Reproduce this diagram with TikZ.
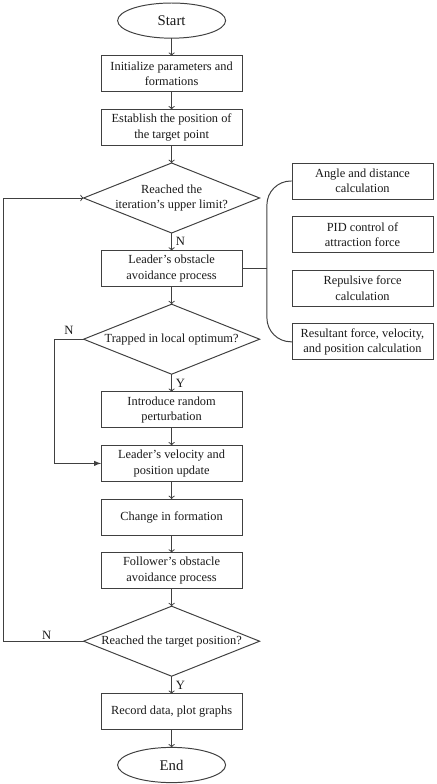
\documentclass[tikz,border=0pt]{standalone}
\usepackage{fontspec}
\setmainfont{Liberation Serif}
\usetikzlibrary{shapes.geometric, arrows}
\usetikzlibrary{positioning}
\usetikzlibrary{calc}

\begin{document}
\begin{tikzpicture}[
                    node distance=0.44cm,
                    every node/.style={align=center, outer sep=0pt, text=black!90, font=\fontsize{8.8}{11}\selectfont},
                    process/.style={draw=black!75, line width=0.7pt, minimum width=3.525cm, minimum height=0.9cm, inner sep=1pt},
                    decision/.style={diamond, draw=black!75, line width=0.7pt, aspect=2.5, minimum width=4.4cm, minimum height=1.75cm, inner sep=-1.5pt},
                    terminal/.style={ellipse, draw=black!75, line width=0.7pt, minimum width=2.7cm, minimum height=0.88cm, font=\fontsize{10.5}{12}\selectfont},
                    flow/.style={->, draw=black!75, line width=0.7pt},
                    plain/.style={draw=black!75, line width=0.7pt},
                    yn/.style={font=\fontsize{9}{10}\selectfont, inner sep=3pt}
                ]
                \useasboundingbox (0,0) rectangle (10.9,-19.6);
                % main column
                \node[terminal] (start) at (4.29,-0.515) {Start};
                \node[process, below=of start] (init) {Initialize parameters and\\formations};
                \node[process, below=of init] (target) {Establish the position of\\the target point};
                \node[decision, below=of target] (iterchk) {Reached the\\iteration's upper limit?};
                \node[process, below=of iterchk] (lobst) {Leader's obstacle\\avoidance process};
                \node[decision, below=of lobst] (trapchk) {Trapped in local optimum?};
                \node[process, below=of trapchk] (perturb) {Introduce random\\perturbation};
                \node[process, below=of perturb] (lupdate) {Leader's velocity and\\position update};
                \node[process, below=of lupdate] (formation) {Change in formation};
                \node[process, below=of formation] (fobst) {Follower's obstacle\\avoidance process};
                \node[decision, below=of fobst] (goalchk) {Reached the target position?};
                \node[process, below=of goalchk] (record) {Record data, plot graphs};
                \node[terminal, below=of record] (stop) {End};
                % side column
                \node[process, below right=0pt and 3.01cm of iterchk.north] (angle) {Angle and distance\\calculation};
                \node[process, below=of angle] (pid) {PID control of\\attraction force};
                \node[process, below=of pid] (repulse) {Repulsive force\\calculation};
                \node[process, below=of repulse] (result) {Resultant force, velocity,\\and position calculation};

                \foreach \a/\b in {start/init, init/target, target/iterchk, perturb/lupdate, lupdate/formation, formation/fobst, fobst/goalchk, record/stop}
                    \draw[flow] (\a) -- (\b);
                \draw[flow] (iterchk) -- node[yn, right]{N} (lobst);
                \draw[flow] (lobst) -- (trapchk);
                \draw[flow] (trapchk) -- node[yn, right]{Y} (perturb);
                \draw[flow] (goalchk) -- node[yn, right]{Y} (record);

                % bracket to the side column
                \coordinate[right=0.62cm of lobst] (hub);
                \draw[plain] (lobst) -- (hub);
                \draw[plain, rounded corners=0.6cm] (angle.west) -| (hub) |- (result.west);

                % loops
                \coordinate[left=0.73cm of trapchk.west] (skipL);
                \draw[plain, -latex] (trapchk.west) -- node[yn, above]{N} (skipL) |- (lupdate.west);
                \coordinate[left=2.01cm of goalchk.west] (loopL);
                \draw[flow] (goalchk.west) -- node[yn, above, pos=0.46, inner sep=1pt]{N} (loopL) |- (iterchk.west);
            \end{tikzpicture}
\end{document}
